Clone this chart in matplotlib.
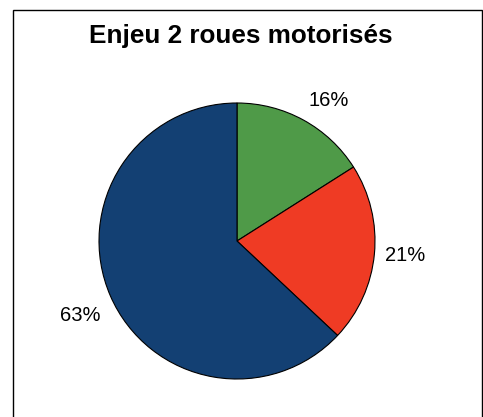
import numpy as np
import matplotlib.pyplot as plt
from matplotlib.patches import Rectangle

plt.rcParams['font.family'] = ['Liberation Sans', 'DejaVu Sans']

title = "Enjeu 2 roues motorisés"
shares = [16, 21, 63]
labels = ["16%", "21%", "63%"]
colors = ["#4F9A48", "#EF3B24", "#134073"]

W, H = 483, 417
fig = plt.figure(figsize=(W / 100, H / 100), dpi=100)
ax = fig.add_axes([0, 0, 1, 1])

# chart frame (bottom runs past the image)
fig.patches.append(Rectangle((13 / W, -0.05), (482 - 13) / W, (H - 10) / H + 0.05,
                             transform=fig.transFigure, fill=False,
                             edgecolor='black', linewidth=1.0))

cx, cy, r = 237, H - 241, 138
wedges, _ = ax.pie(shares, colors=colors, startangle=90, counterclock=False,
                   center=(cx, cy), radius=r, frame=True,
                   wedgeprops=dict(edgecolor='black', linewidth=0.8))
ax.set_xlim(0, W)
ax.set_ylim(0, H)
ax.set_aspect('auto')
ax.axis('off')

# labels outside the pie, anchored by their nearest corner (like Excel)
for w, lab in zip(wedges, labels):
    ang = np.deg2rad((w.theta1 + w.theta2) / 2)
    c, s = np.cos(ang), np.sin(ang)
    ha = 'left' if c > 0 else 'right'
    va = 'bottom' if s > 0.5 else ('top' if s < -0.3 else 'center')
    dy = -6 if va == 'top' else 0
    ax.text(cx + 1.08 * r * c, cy + 1.08 * r * s + dy, lab,
            ha=ha, va=va, fontsize=14.5)

fig.text(241 / W, 1 - 43 / H, title, ha='center', va='baseline',
         fontsize=18.8, fontweight='bold')

fig.savefig('out.png', dpi=100)
